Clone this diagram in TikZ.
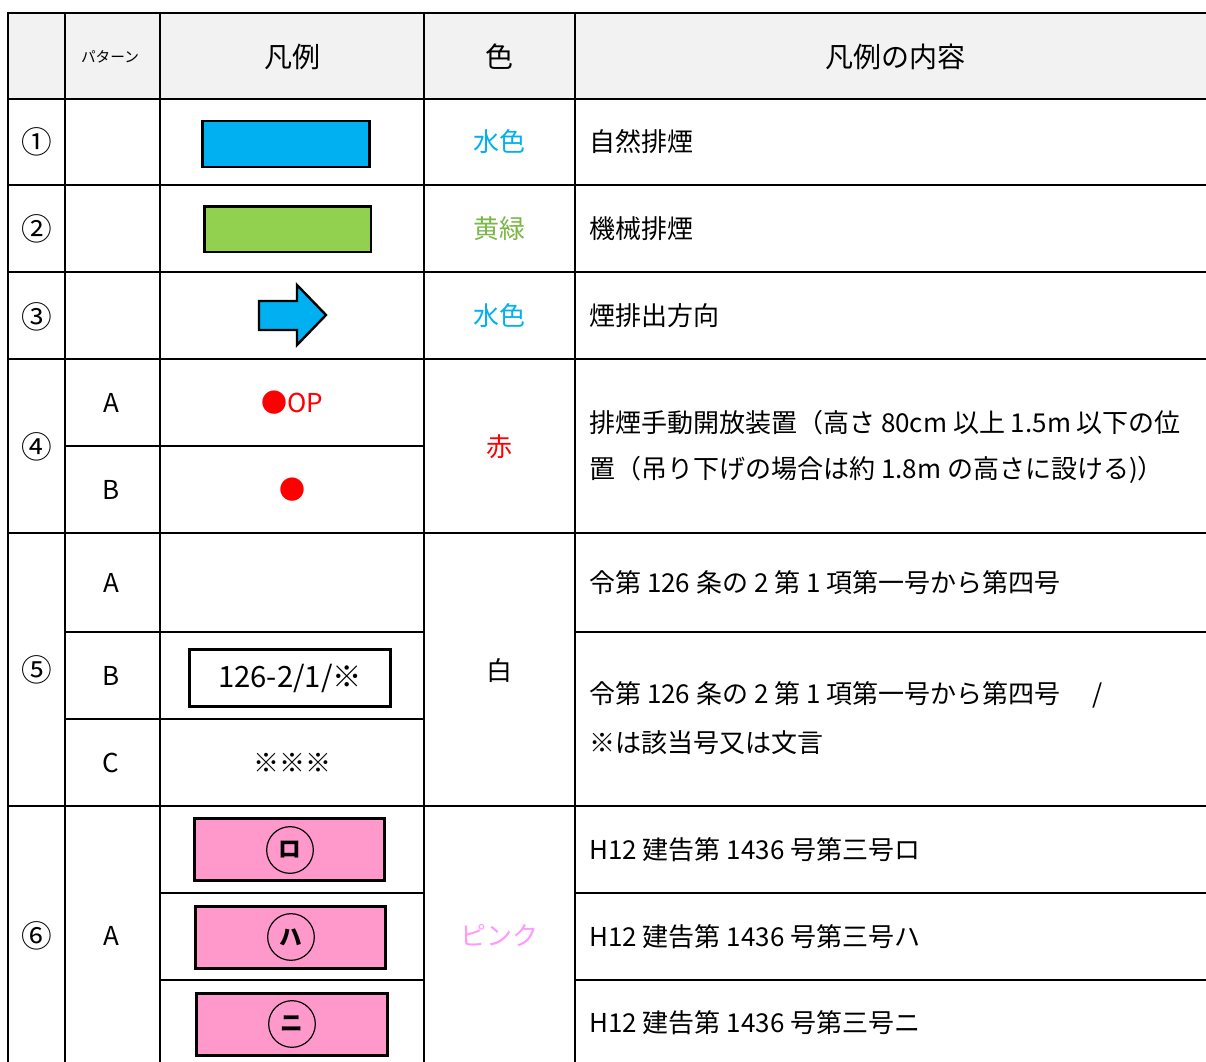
\documentclass[tikz,border=0pt]{standalone}
\usepackage{fontspec}
\setmainfont{Noto Sans CJK JP}
\definecolor{hdr}{HTML}{F2F2F2}
\definecolor{sky}{HTML}{00B0F0}
\definecolor{lime}{HTML}{92D050}
\definecolor{limetxt}{HTML}{7AB648}
\definecolor{pinkfill}{HTML}{FF99CC}
\definecolor{pinktxt}{HTML}{FF99FF}
\definecolor{redc}{HTML}{FF0000}
\tikzset{
  grid/.style={line width=2pt, black},
  body/.style={font=\fontsize{19.5}{24}\selectfont, inner sep=0pt},
  num/.style={font=\fontsize{23}{26}\selectfont, inner sep=0pt},
  hd/.style={font=\fontsize{21}{24}\selectfont, inner sep=0pt},
  small/.style={font=\fontsize{11}{13}\selectfont, inner sep=0pt},
  desc/.style={body, anchor=west},
  legbox/.style={draw=black, line width=2pt},
  ring/.style={circle, draw=black, line width=0.9pt, minimum size=35pt, inner sep=0pt, font=\bfseries\fontsize{17}{18}\selectfont}
}
\begin{document}
\begin{tikzpicture}[x=0.75pt,y=-0.75pt]
\useasboundingbox (0,0) rectangle (1206,1062);
% header background
\fill[hdr] (8,13) rectangle (1206,99);
% horizontal lines
\draw[grid] (8,13) -- (1206,13);
\draw[grid] (8,99) -- (1206,99);
\draw[grid] (8,185) -- (1206,185);
\draw[grid] (8,272) -- (1206,272);
\draw[grid] (8,359) -- (1206,359);
\draw[grid] (65,446) -- (424,446);
\draw[grid] (8,533) -- (1206,533);
\draw[grid] (65,632) -- (424,632);
\draw[grid] (575,632) -- (1206,632);
\draw[grid] (65,719) -- (424,719);
\draw[grid] (8,806) -- (1206,806);
\draw[grid] (160,893) -- (424,893);
\draw[grid] (575,893) -- (1206,893);
\draw[grid] (160,980) -- (424,980);
\draw[grid] (575,980) -- (1206,980);
% vertical lines
\foreach \xx in {8,65,160,424,575} \draw[grid] (\xx,12) -- (\xx,1062);

% header
\node[small] (hpat) at (110,57) {パターン};
\node[hd] (hleg) at (292,57) {凡例};
\node[hd] (hcol) at (499,57) {色};
\node[hd] (hdesc) at (895,57) {凡例の内容};

% row 1
\node[num] (n1) at (37,142) {①};
\node[legbox, fill=sky, minimum width=125pt, minimum height=34.5pt] (r1) at (286,144) {};
\node[body, text=sky] (c1) at (499,142) {水色};
\node[desc] (d1) at (589,142) {自然排煙};

% row 2
\node[num] (n2) at (37,229) {②};
\node[legbox, fill=lime, minimum width=125pt, minimum height=34pt] (r2) at (287.5,229.5) {};
\node[body, text=limetxt] (c2) at (499,229) {黄緑};
\node[desc] (d2) at (589,229) {機械排煙};

% row 3
\node[num] (n3) at (37,317) {③};
\coordinate (ar) at (259,301);
\draw[line width=1.8pt, fill=sky, line join=miter] (ar) -- (297,301) -- (297,285) -- (326,315) -- (297,345) -- (297,330) -- (259,330) -- cycle;
\node[body, text=sky] (c3) at (499,316) {水色};
\node[desc] (d3) at (589,316) {煙排出方向};

% row 4
\node[num] (n4) at (37,447) {④};
\node[body] (p4a) at (111,403) {A};
\node[body] (p4b) at (111,490) {B};
\node[body, text=redc] (l4a) at (292,403) {●OP};
\node[body, text=redc] (l4b) at (292,490) {●};
\node[body, text=redc] (c4) at (499,447) {赤};
\node[desc] (d4a) at (589,423) {排煙手動開放装置（高さ 80cm 以上 1.5m 以下の位};
\node[desc] (d4b) at (589,470) {置（吊り下げの場合は約 1.8m の高さに設ける)）};

% row 5
\node[num] (n5) at (37,670) {⑤};
\node[body] (p5a) at (111,583) {A};
\node[body] (p5b) at (111,676) {B};
\node[body] (p5c) at (111,763) {C};
\node[draw=black, line width=1.8pt, minimum width=151pt, minimum height=43pt, inner sep=0pt, font=\fontsize{22}{24}\selectfont] (l5b) at (290,678) {126-2/1/※};
\node[body] (l5c) at (292,763) {※※※};
\node[body] (c5) at (499,671) {白};
\node[desc] (d5a) at (589,583) {令第 126 条の 2 第 1 項第一号から第四号};
\node[desc] (d5b) at (589,695) {令第 126 条の 2 第 1 項第一号から第四号　 /};
\node[desc] (d5c) at (589,743) {※は該当号又は文言};

% row 6
\node[num] (n6) at (37,936) {⑥};
\node[body] (p6) at (111,936) {A};
\node[legbox, line width=2.4pt, fill=pinkfill, minimum width=143pt, minimum height=46pt] (r6a) at (289.5,849.5) {};
\node[legbox, line width=2.4pt, fill=pinkfill, minimum width=143pt, minimum height=46pt] (r6b) at (290.5,937.5) {};
\node[legbox, line width=2.4pt, fill=pinkfill, minimum width=143pt, minimum height=46pt] (r6c) at (292,1024.5) {};
\node[ring] (k6a) at (290,850) {ロ};
\node[ring] (k6b) at (291,937) {ハ};
\node[ring] (k6c) at (292,1024) {ニ};
\node[body, text=pinktxt] (c6) at (499,936) {ピンク};
\node[desc] (d6a) at (589,850) {H12 建告第 1436 号第三号ロ};
\node[desc] (d6b) at (589,937) {H12 建告第 1436 号第三号ハ};
\node[desc] (d6c) at (589,1023) {H12 建告第 1436 号第三号ニ};
\end{tikzpicture}
\end{document}
